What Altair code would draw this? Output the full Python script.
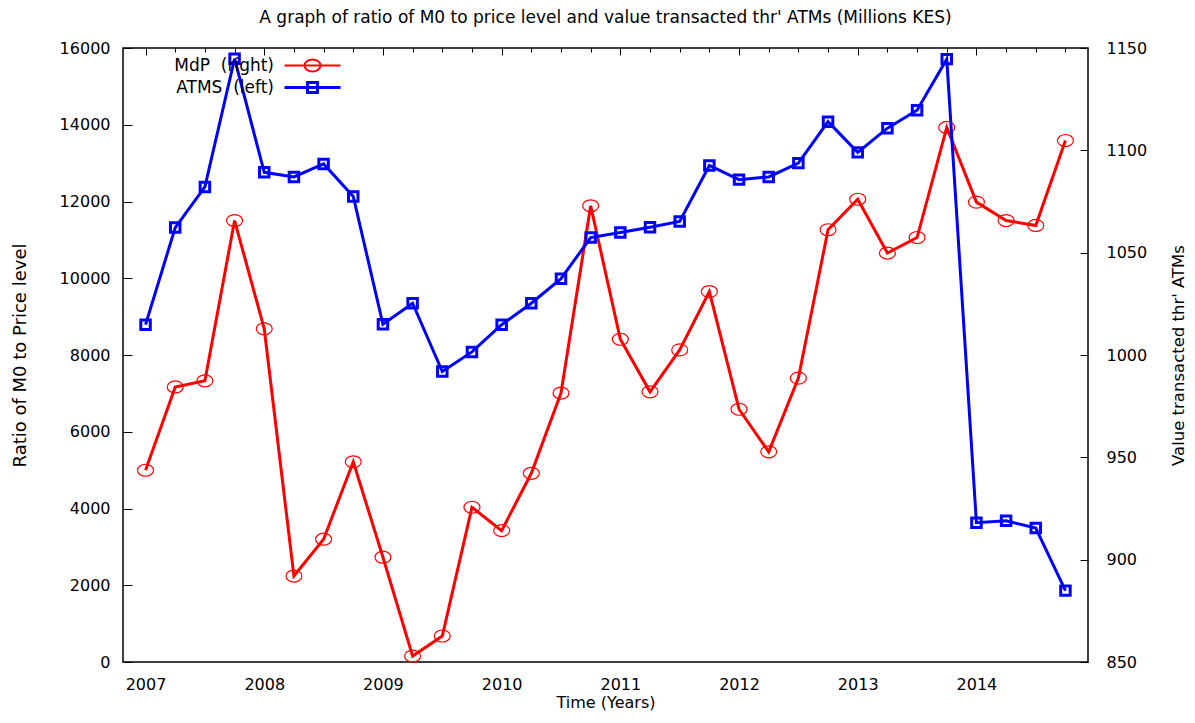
import altair as alt
import pandas as pd

# ---- data ----
quarters = [2007.0, 2007.25, 2007.5, 2007.75, 2008.0, 2008.25, 2008.5, 2008.75,
            2009.0, 2009.25, 2009.5, 2009.75, 2010.0, 2010.25, 2010.5, 2010.75,
            2011.0, 2011.25, 2011.5, 2011.75, 2012.0, 2012.25, 2012.5, 2012.75,
            2013.0, 2013.25, 2013.5, 2013.75, 2014.0, 2014.25, 2014.5, 2014.75]

atms_left = [8790, 11320, 12380, 15720, 12760, 12640, 12980, 12130,
             8800, 9350, 7570, 8080, 8790, 9350, 9990, 11060,
             11190, 11330, 11480, 12940, 12570, 12640, 13000, 14080,
             13280, 13910, 14380, 15710, 3630, 3680, 3490, 1860]

mdp_right = [943.7, 984.4, 987.4, 1065.7, 1012.8, 892.0, 910.0, 947.8,
             901.2, 852.9, 862.7, 925.6, 914.2, 942.2, 981.4, 1072.9,
             1007.7, 982.0, 1002.5, 1031.0, 973.5, 952.7, 988.7, 1061.2,
             1076.1, 1049.8, 1057.4, 1111.2, 1074.7, 1065.7, 1063.3, 1104.8]

year_ticks = [2007, 2008, 2009, 2010, 2011, 2012, 2013, 2014]
left_ticks = [0, 2000, 4000, 6000, 8000, 10000, 12000, 14000, 16000]
right_ticks = [850, 900, 950, 1000, 1050, 1100, 1150]

series_names = ["MdP \u00a0(right)", "ATMS \u00a0(left)"]
series_colors = ["#ff0000", "#0000ff"]

title_text = "A graph of ratio of M0 to price level and value transacted thr' ATMs (Millions KES)"

df_mdp = pd.DataFrame({"year": quarters, "value": mdp_right, "series": series_names[0]})
df_atms = pd.DataFrame({"year": quarters, "value": atms_left, "series": series_names[1]})

FONT = "DejaVu Sans"

ELL = "M-1.33,0A1.33,1,0,1,0,1.33,0A1.33,1,0,1,0,-1.33,0Z"
LEG_RED = "M-4.67,0H4.67" + ELL
LEG_BLUE = "M-4.67,0H4.67M-0.83,-0.83H0.83V0.83H-0.83Z"

x_scale = alt.Scale(domain=[2006.81, 2014.94], nice=False, zero=False)
color_scale = alt.Scale(domain=series_names, range=series_colors)

is_red = f"datum.value === '{series_names[0]}'"
legend = alt.Legend(
    title=None, orient="none", legendX=181, legendY=9, padding=0,
    symbolSize=144, labelAlign="right", labelOffset={"expr": "-47"},
    labelFont=FONT, labelFontSize=17, labelColor="black", rowPadding=0,
    symbolType={"expr": f"{is_red} ? '{LEG_RED}' : '{LEG_BLUE}'"},
    symbolStrokeWidth={"expr": f"{is_red} ? 2 : 3"},
    symbolFillColor="transparent",
)

# inward ticks are drawn as short dashes of the axis grid, starting at the frame
red = alt.Chart(df_mdp).mark_line(
    strokeWidth=3,
    point=alt.OverlayMarkDef(shape=ELL, size=144, filled=False, strokeWidth=1.2),
).encode(
    x=alt.X("year:Q", scale=x_scale,
            axis=alt.Axis(orient="bottom", values=quarters, ticks=False, tickSize=0,
                          labels=False, domain=False, grid=True, gridDash=[4, 3000],
                          gridColor="black", gridWidth=1, title=None)),
    y=alt.Y("value:Q", scale=alt.Scale(domain=[850, 1150], nice=False, zero=False),
            axis=alt.Axis(orient="right", values=right_ticks, ticks=False, tickSize=0,
                          domain=False, grid=True, gridDash=[8, 3000],
                          gridColor="black", gridWidth=1, labelPadding=18, format="d",
                          title="Value transacted thr' ATMs", titleAngle=270,
                          titlePadding=40, titleFontSize=16.5)),
    color=alt.Color("series:N", scale=color_scale, legend=legend),
)

blue = alt.Chart(df_atms).mark_line(
    strokeWidth=3,
    point=alt.OverlayMarkDef(shape="square", size=90, filled=False, strokeWidth=3),
).encode(
    x=alt.X("year:Q", scale=x_scale,
            axis=alt.Axis(orient="bottom", values=year_ticks, ticks=False, tickSize=0,
                          format="d", domain=False, grid=True, gridDash=[7, 3000],
                          gridColor="black", gridWidth=1, labelPadding=14,
                          title="Time (Years)", titlePadding=2)),
    y=alt.Y("value:Q", scale=alt.Scale(domain=[0, 16000], nice=False, zero=False),
            axis=alt.Axis(orient="left", values=left_ticks, ticks=False, tickSize=0,
                          format="d", domain=False, grid=True, gridDash=[9, 3000],
                          gridColor="black", gridWidth=1, labelPadding=13,
                          title="Ratio of M0 to Price level", titlePadding=30,
                          titleFontSize=18)),
    color=alt.Color("series:N", scale=color_scale, legend=legend),
)

chart = alt.layer(red, blue).resolve_scale(y="independent").resolve_axis(
    x="independent"
).properties(
    width=965, height=614,
    padding={"left": 115, "top": 40, "right": 99, "bottom": 50},
    autosize=alt.AutoSizeParams(type="none"),
    background="white",
    title=alt.Title(title_text, font=FONT, fontSize=17, fontWeight="normal",
                    color="black", offset=13, anchor="middle"),
).configure_view(
    stroke="black", strokeWidth=1.5
).configure_axis(
    labelFont=FONT, labelFontSize=16, labelColor="black",
    titleFont=FONT, titleFontWeight="normal", titleColor="black", titleFontSize=16,
)

chart.save("out.html", embed_options={"renderer": "svg", "actions": False})
